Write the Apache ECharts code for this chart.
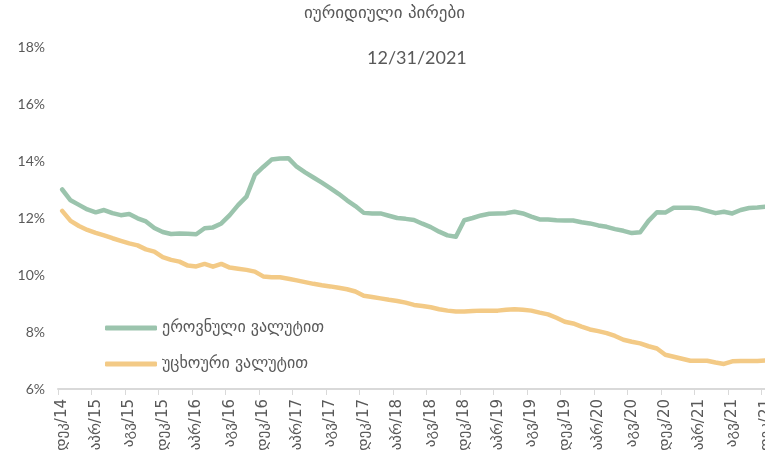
<!DOCTYPE html>
<html>
<head>
<meta charset="utf-8">
<script src="https://cdn.jsdelivr.net/npm/echarts@6/dist/echarts.min.js"></script>
<style>
  html, body { margin: 0; padding: 0; background: #fff; }
  #chart { width: 765px; height: 459px; }
</style>
</head>
<body>
<div id="chart"></div>
<script>
// Monthly lending rates for legal entities, Dec 2014 – Dec 2021 (%)
const monthNames = ['იან', 'თებ', 'მარ', 'აპრ', 'მაი', 'ივნ', 'ივლ', 'აგვ', 'სექ', 'ოქტ', 'ნოე', 'დეკ'];
const startYear = 2014, startMonth = 11, monthCount = 85;

const seriesNames = ['ეროვნული ვალუტით', 'უცხოური ვალუტით'];

const nationalCurrency = [
  13.00, 12.62, 12.46, 12.30, 12.20, 12.28, 12.17, 12.10, 12.14, 11.99,
  11.88, 11.65, 11.51, 11.44, 11.46, 11.45, 11.43, 11.64, 11.67, 11.81,
  12.10, 12.45, 12.75, 13.51, 13.79, 14.05, 14.09, 14.10, 13.80, 13.60,
  13.42, 13.24, 13.05, 12.85, 12.62, 12.42, 12.18, 12.16, 12.16, 12.08,
  12.00, 11.97, 11.93, 11.80, 11.68, 11.52, 11.39, 11.34, 11.92, 12.00,
  12.09, 12.15, 12.16, 12.17, 12.22, 12.16, 12.05, 11.95, 11.95, 11.92,
  11.91, 11.91, 11.85, 11.81, 11.74, 11.69, 11.61, 11.55, 11.47, 11.50,
  11.90, 12.20, 12.19, 12.36, 12.36, 12.36, 12.33, 12.25, 12.17, 12.22,
  12.16, 12.28, 12.35, 12.37, 12.40
];

const foreignCurrency = [
  12.25, 11.90, 11.72, 11.58, 11.48, 11.39, 11.29, 11.20, 11.11, 11.04,
  10.90, 10.82, 10.63, 10.53, 10.47, 10.33, 10.30, 10.39, 10.29, 10.39,
  10.26, 10.22, 10.18, 10.12, 9.95, 9.92, 9.92, 9.87, 9.81, 9.75,
  9.69, 9.64, 9.60, 9.55, 9.50, 9.42, 9.27, 9.23, 9.18, 9.13,
  9.09, 9.03, 8.95, 8.91, 8.87, 8.80, 8.75, 8.72, 8.72, 8.74,
  8.75, 8.75, 8.75, 8.78, 8.80, 8.78, 8.75, 8.68, 8.62, 8.50,
  8.36, 8.30, 8.19, 8.09, 8.03, 7.96, 7.86, 7.73, 7.66, 7.60,
  7.50, 7.42, 7.20, 7.13, 7.06, 6.99, 6.99, 6.99, 6.93, 6.88,
  6.97, 6.98, 6.98, 6.98, 7.00
];

// Category labels like "დეკ/14"
const categories = [];
for (let k = 0; k < monthCount; k++) {
  const m = (startMonth + k) % 12;
  const y = startYear + Math.floor((startMonth + k) / 12);
  categories.push(monthNames[m] + '/' + String(y).slice(2));
}

const GREEN = '#9bc4ad';
const YELLOW = '#f3ca86';
const TEXT = '#595959';
const GEO_FONT = '"DejaVu Sans", "Noto Sans", sans-serif';

const chart = echarts.init(document.getElementById('chart'), null, { renderer: 'canvas' });

chart.setOption({
  animation: false,
  backgroundColor: '#ffffff',
  graphic: [
    {
      type: 'text', left: 304, top: 5,
      style: { text: 'იურიდიული პირები', fill: TEXT, font: '17px ' + GEO_FONT }
    },
    {
      type: 'text', left: 367, top: 49,
      style: { text: '12/31/2021', fill: TEXT, font: '18px Lato, "Open Sans", sans-serif' }
    }
  ],
  legend: {
    orient: 'vertical',
    left: 100,
    top: 314,
    itemGap: 18,
    itemWidth: 52,
    itemHeight: 5,
    icon: 'roundRect',
    data: seriesNames,
    textStyle: { color: TEXT, fontSize: 16, fontFamily: GEO_FONT, lineHeight: 18 }
  },
  grid: { left: 58, top: 47, width: 712, height: 342, containLabel: false, outerBoundsMode: 'none' },
  xAxis: {
    type: 'category',
    data: categories,
    boundaryGap: true,
    axisLine: { show: true, lineStyle: { color: '#d9d9d9', width: 2 } },
    axisTick: { show: true, interval: 3, length: 6, lineStyle: { color: '#d9d9d9', width: 1 } },
    axisLabel: {
      interval: 3, rotate: 90, margin: 10,
      color: TEXT, fontSize: 15, fontFamily: GEO_FONT
    },
    splitLine: { show: false }
  },
  yAxis: {
    type: 'value',
    min: 6, max: 18, interval: 2,
    axisLine: { show: false },
    axisTick: { show: false },
    splitLine: { show: false },
    axisLabel: {
      formatter: '{value}%', margin: 13,
      color: TEXT, fontSize: 14, fontFamily: 'Lato, "Open Sans", sans-serif'
    }
  },
  series: [
    {
      name: seriesNames[0], type: 'line', data: nationalCurrency,
      showSymbol: false, symbol: 'none', smooth: false,
      lineStyle: { color: GREEN, width: 4.5, cap: 'round', join: 'round' },
      itemStyle: { color: GREEN }
    },
    {
      name: seriesNames[1], type: 'line', data: foreignCurrency,
      showSymbol: false, symbol: 'none', smooth: false,
      lineStyle: { color: YELLOW, width: 4.5, cap: 'round', join: 'round' },
      itemStyle: { color: YELLOW }
    }
  ]
});
</script>
</body>
</html>
